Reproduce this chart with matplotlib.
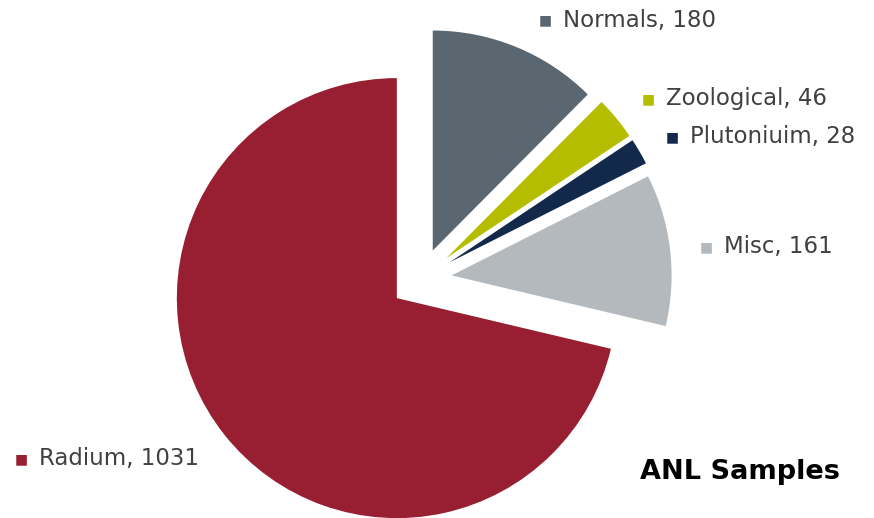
import matplotlib.pyplot as plt

labels = ['Normals', 'Zoological', 'Plutoniuim', 'Misc', 'Radium']
counts = [180, 46, 28, 161, 1031]
colors = ['#5B6770', '#B5BD00', '#13294B', '#B4B9BD', '#981E32']
explode = [0.14, 0.15, 0.15, 0.14, 0.14]

# label anchor points (pixels, from top-left) for the data labels
label_px = [(545, 20), (648, 99), (672, 137), (706, 247), (21, 459)]

W, H = 874, 518
cx, cy, r = 421, 279, 220

fig = plt.figure(figsize=(W / 100, H / 100), dpi=100)
ax = fig.add_axes([0, 0, 1, 1])
ax.pie(counts, colors=colors, explode=explode, startangle=90,
       counterclock=False, radius=1,
       wedgeprops=dict(linewidth=0))
ax.set_aspect('auto')
ax.set_xlim(-cx / r, (W - cx) / r)
ax.set_ylim(-(H - cy) / r, cy / r)
ax.axis('off')

for name, n, col, (px, py) in zip(labels, counts, colors, label_px):
    fig.text(px / W, 1 - py / H, '\u25A0', color=col, fontsize=10,
             ha='center', va='center')
    fig.text((px + 18) / W, 1 - py / H, f'{name}, {n}', color='#404040',
             fontsize=16.5, ha='left', va='center')

fig.text(740 / W, 1 - 472 / H, 'ANL Samples', fontsize=19.5, fontweight='bold',
         ha='center', va='center', color='black')

fig.savefig('out.png', dpi=100)
